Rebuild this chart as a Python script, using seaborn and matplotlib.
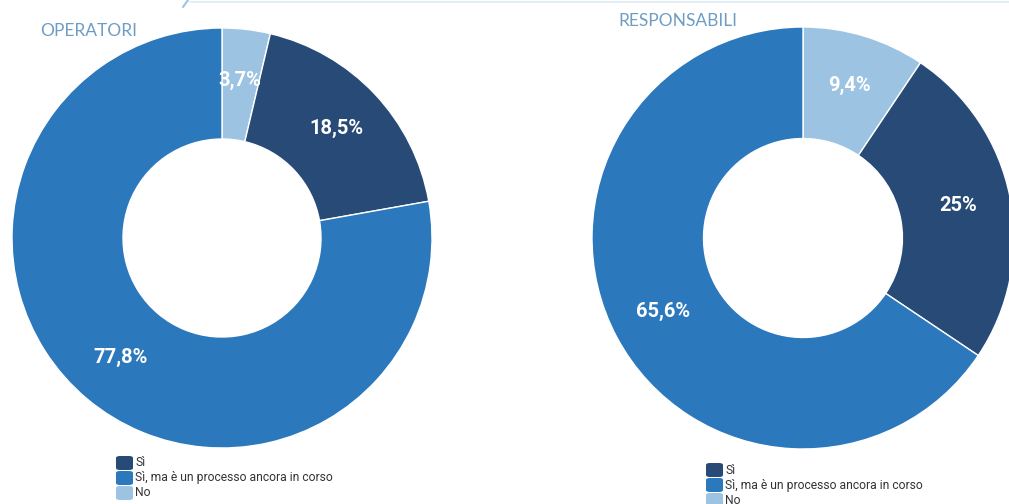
import matplotlib
matplotlib.use("Agg")
import matplotlib.pyplot as plt
import seaborn as sns
from matplotlib.patches import FancyBboxPatch
from matplotlib.lines import Line2D

categories = ["Sì", "Sì, ma è un processo ancora in corso", "No"]
operatori = [18.5, 77.8, 3.7]
responsabili = [25.0, 65.6, 9.4]
operatori_labels = ["18,5%", "77,8%", "3,7%"]
responsabili_labels = ["25%", "65,6%", "9,4%"]
titles = ["OPERATORI", "RESPONSABILI"]

sns.set_theme(style="white")
plt.rcParams['font.family'] = ['Roboto', 'DejaVu Sans']
palette = sns.color_palette(["#274a76", "#2b78bd", "#9dc3e3"])

W, H = 1009, 504
fig = plt.figure(figsize=(W / 100, H / 100), dpi=100)
fig.patch.set_facecolor("white")

def fx(x):
    return x / W

def fy(y):
    return 1 - y / H

def donut(cx, cy, r, values, labels, title, tx, ty, lx, ly):
    ax = fig.add_axes([fx(cx - r), fy(cy + r), 2 * r / W, 2 * r / H])
    order = [2, 0, 1]
    vals = [values[i] for i in order]
    cols = [palette[i] for i in order]
    labs = [labels[i] for i in order]
    wedges, texts = ax.pie(vals, colors=cols, startangle=90, counterclock=False,
                           radius=1.0, labels=labs, labeldistance=0.75,
                           wedgeprops=dict(width=1 - 99 / 210, edgecolor="white", linewidth=1.0),
                           textprops=dict(color="white", fontsize=14.5, fontweight="bold",
                                          ha="center", va="center"))
    for t in texts:
        t.set_ha("center")
        x, y = t.get_position()
        t.set_position((x, y + 1.5 / r))
    ax.set_xlim(-1, 1)
    ax.set_ylim(-1, 1)
    ax.set_aspect("equal")
    ax.axis("off")
    fig.text(fx(tx), fy(ty), title, fontsize=12.5, color="#6d9cc4",
             family=["Lato", "DejaVu Sans"], fontweight="normal", ha="left", va="center")
    for i, cat in enumerate(categories):
        yy = ly + i * 15
        box = FancyBboxPatch((fx(lx), fy(yy + 7)), 17 / W, 14 / H,
                             boxstyle="round,pad=0,rounding_size=0.004",
                             transform=fig.transFigure, facecolor=palette[i],
                             edgecolor="none")
        fig.add_artist(box)
        fig.text(fx(lx + 19), fy(yy), cat, fontsize=8.7, color="#333333",
                 ha="left", va="center")

donut(222, 238, 210, operatori, operatori_labels, titles[0], 40, 31, 116, 463)
donut(803, 238, 211, responsabili, responsabili_labels, titles[1], 618, 21, 706, 470)

fig.add_artist(Line2D([fx(190), fx(1009)], [fy(2), fy(2)], transform=fig.transFigure,
                      color="#e6eef5", linewidth=1.5))
fig.add_artist(Line2D([fx(183), fx(188)], [fy(7), fy(0)], transform=fig.transFigure,
                      color="#9dc3e3", linewidth=1.5))

fig.savefig("out.png", dpi=100)
